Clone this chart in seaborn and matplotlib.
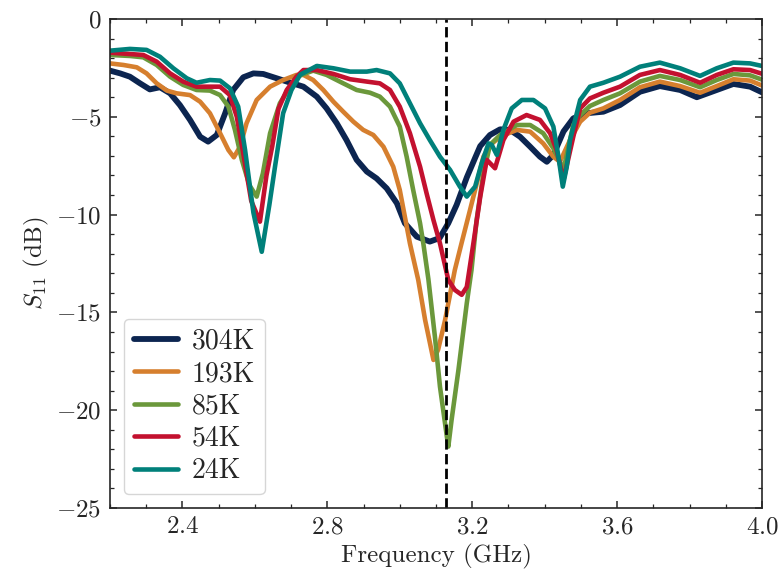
import numpy as np
import pandas as pd
import matplotlib
matplotlib.use("Agg")
import matplotlib.pyplot as plt
import seaborn as sns
from matplotlib.ticker import MultipleLocator

f_304 = [2.200, 2.228, 2.255, 2.283, 2.310, 2.338, 2.366, 2.393, 2.421, 2.449, 2.471, 2.495, 2.518, 2.540,
         2.568, 2.596, 2.623, 2.660, 2.697, 2.734, 2.771, 2.798, 2.826, 2.853, 2.881, 2.909, 2.936, 2.964,
         2.992, 3.014, 3.047, 3.083, 3.110, 3.134, 3.157, 3.185, 3.208, 3.222, 3.249, 3.277, 3.304, 3.332,
         3.360, 3.387, 3.406, 3.424, 3.452, 3.479, 3.516, 3.562, 3.608, 3.663, 3.718, 3.774, 3.820, 3.875,
         3.921, 3.967, 4.000]
s_304 = [-2.64, -2.78, -2.95, -3.29, -3.60, -3.49, -3.80, -4.40, -5.16, -6.02, -6.27, -5.93, -4.82, -3.63,
         -2.98, -2.78, -2.81, -3.03, -3.25, -3.46, -3.97, -4.57, -5.33, -6.19, -7.20, -7.80, -8.15, -8.66,
         -9.42, -10.44, -11.13, -11.38, -11.20, -10.44, -9.50, -8.10, -7.10, -6.50, -5.93, -5.64, -5.67, -6.02,
         -6.53, -7.04, -7.30, -6.95, -5.75, -5.08, -4.82, -4.74, -4.40, -3.72, -3.43, -3.63, -4.00, -3.63,
         -3.32, -3.46, -3.75]

f_193 = [2.200, 2.237, 2.274, 2.301, 2.329, 2.357, 2.384, 2.421, 2.449, 2.476, 2.504, 2.527, 2.542, 2.559,
         2.577, 2.605, 2.642, 2.678, 2.715, 2.734, 2.761, 2.789, 2.817, 2.844, 2.872, 2.899, 2.927, 2.955,
         2.982, 3.000, 3.014, 3.028, 3.051, 3.070, 3.093, 3.106, 3.125, 3.152, 3.170, 3.194, 3.208, 3.231,
         3.250, 3.277, 3.323, 3.360, 3.396, 3.424, 3.442, 3.470, 3.498, 3.525, 3.562, 3.608, 3.663, 3.718,
         3.774, 3.829, 3.875, 3.921, 3.967, 4.000]
s_193 = [-2.27, -2.35, -2.47, -2.78, -3.29, -3.66, -3.80, -3.89, -4.23, -4.82, -5.84, -6.70, -7.07, -6.53,
         -5.33, -4.14, -3.46, -3.12, -2.86, -2.86, -3.12, -3.63, -4.23, -4.74, -5.25, -5.67, -5.93, -6.53,
         -7.55, -8.74, -10.10, -11.47, -13.34, -15.39, -17.43, -16.90, -15.40, -12.83, -11.50, -9.76, -8.74, -7.04,
         -6.44, -6.02, -5.67, -5.76, -6.36, -7.04, -7.30, -6.19, -5.25, -4.79, -4.57, -4.14, -3.49, -3.20,
         -3.43, -3.77, -3.43, -3.08, -3.15, -3.40]

f_85 = [2.200, 2.255, 2.292, 2.329, 2.366, 2.402, 2.439, 2.476, 2.504, 2.527, 2.545, 2.564, 2.585, 2.605,
        2.622, 2.642, 2.669, 2.697, 2.715, 2.761, 2.798, 2.844, 2.881, 2.918, 2.945, 2.973, 3.000, 3.019,
        3.037, 3.056, 3.065, 3.079, 3.097, 3.111, 3.130, 3.134, 3.143, 3.162, 3.185, 3.198, 3.212, 3.230,
        3.249, 3.277, 3.323, 3.360, 3.396, 3.424, 3.452, 3.479, 3.498, 3.525, 3.562, 3.608, 3.663, 3.718,
        3.774, 3.829, 3.875, 3.921, 3.967, 4.000]
s_85 = [-1.84, -1.89, -1.96, -2.35, -2.95, -3.37, -3.63, -3.66, -3.89, -4.48, -5.67, -7.20, -8.50, -9.08,
        -7.90, -5.84, -4.31, -3.46, -2.95, -2.64, -2.86, -3.29, -3.63, -3.77, -3.97, -4.48, -5.50, -7.04,
        -8.74, -10.44, -11.47, -13.30, -16.24, -18.80, -21.35, -21.86, -20.50, -17.94, -14.53, -12.83, -10.30, -8.00,
        -6.44, -5.93, -5.42, -5.42, -5.84, -6.61, -7.70, -5.42, -4.91, -4.45, -4.14, -3.80, -3.20, -2.91,
        -3.12, -3.49, -3.12, -2.81, -2.88, -3.10]

f_54 = [2.200, 2.255, 2.292, 2.329, 2.366, 2.402, 2.439, 2.476, 2.504, 2.531, 2.550, 2.568, 2.590, 2.614,
        2.632, 2.648, 2.665, 2.688, 2.715, 2.734, 2.771, 2.817, 2.863, 2.909, 2.945, 2.973, 3.000, 3.028,
        3.056, 3.074, 3.093, 3.111, 3.134, 3.152, 3.171, 3.185, 3.203, 3.222, 3.240, 3.263, 3.286, 3.314,
        3.350, 3.387, 3.415, 3.433, 3.452, 3.479, 3.498, 3.525, 3.562, 3.608, 3.663, 3.718, 3.774, 3.829,
        3.875, 3.921, 3.967, 4.000]
s_54 = [-1.72, -1.79, -1.84, -2.18, -2.78, -3.20, -3.46, -3.46, -3.46, -3.89, -4.99, -6.87, -9.30, -10.36,
        -8.00, -6.50, -4.60, -3.63, -2.95, -2.61, -2.61, -2.81, -3.08, -3.20, -3.29, -3.63, -4.48, -5.84,
        -7.55, -8.91, -10.28, -11.47, -13.34, -13.85, -14.10, -13.70, -11.50, -9.10, -7.20, -7.63, -6.19, -5.25,
        -4.91, -5.16, -5.84, -6.70, -8.23, -6.02, -4.57, -4.06, -3.77, -3.46, -2.86, -2.61, -2.86, -3.26,
        -2.86, -2.57, -2.61, -2.80]

f_24 = [2.200, 2.255, 2.301, 2.338, 2.375, 2.412, 2.439, 2.476, 2.504, 2.531, 2.554, 2.573, 2.596, 2.619,
        2.640, 2.656, 2.678, 2.701, 2.725, 2.771, 2.817, 2.863, 2.909, 2.936, 2.973, 3.000, 3.028, 3.056,
        3.083, 3.111, 3.139, 3.166, 3.185, 3.208, 3.226, 3.245, 3.254, 3.268, 3.286, 3.309, 3.337, 3.369,
        3.401, 3.424, 3.438, 3.450, 3.461, 3.470, 3.498, 3.525, 3.562, 3.608, 3.663, 3.718, 3.774, 3.829,
        3.875, 3.921, 3.967, 4.000]
s_24 = [-1.62, -1.53, -1.58, -1.93, -2.52, -3.03, -3.26, -3.12, -3.15, -3.54, -4.48, -6.70, -9.90, -11.90,
        -9.50, -7.50, -4.82, -3.63, -2.85, -2.40, -2.52, -2.69, -2.69, -2.61, -2.78, -3.29, -4.31, -5.33,
        -6.19, -7.04, -7.72, -8.57, -9.08, -8.57, -7.38, -6.36, -6.44, -6.95, -5.67, -4.57, -4.14, -4.14,
        -4.57, -5.50, -7.04, -8.57, -7.55, -6.19, -4.14, -3.46, -3.26, -2.95, -2.44, -2.23, -2.52, -2.91,
        -2.52, -2.23, -2.27, -2.40]

labels = ["304K", "193K", "85K", "54K", "24K"]
colors = ["#0c2550", "#d67f2e", "#6b983b", "#c3112f", "#00807a"]
f_mark = 3.128

sns.set_style("ticks")
plt.rcParams.update({
    "font.family": "serif",
    "font.serif": ["cmr10"],
    "mathtext.fontset": "cm",
    "axes.formatter.use_mathtext": True,
    "axes.unicode_minus": True,
    "font.size": 18,
    "axes.linewidth": 1.2,
    "xtick.direction": "in",
    "ytick.direction": "in",
    "xtick.top": True,
    "ytick.right": True,
    "xtick.minor.visible": True,
    "ytick.minor.visible": True,
    "xtick.major.size": 5,
    "ytick.major.size": 5,
    "xtick.minor.size": 2.8,
    "ytick.minor.size": 2.8,
    "xtick.major.width": 1.1,
    "ytick.major.width": 1.1,
    "xtick.minor.width": 0.9,
    "ytick.minor.width": 0.9,
    "xtick.labelsize": 18,
    "ytick.labelsize": 18,
    "xtick.major.pad": 6,
    "ytick.major.pad": 6,
})

fig, ax = plt.subplots(figsize=(7.81, 5.79), dpi=100)
fig.subplots_adjust(left=0.1408, right=0.9757, top=0.9672, bottom=0.1226)

series = [(f_304, s_304), (f_193, s_193), (f_85, s_85), (f_54, s_54), (f_24, s_24)]
widths = [4.2, 3.3, 3.3, 3.3, 3.3]
for (f, s), lab, c, w in zip(series, labels, colors, widths):
    sns.lineplot(x=f, y=s, color=c, lw=w, label=lab, ax=ax)

ax.axvline(f_mark, color="black", ls="--", lw=2)

ax.set_xlim(2.2, 4.0)
ax.set_ylim(-25, 0)
ax.xaxis.set_major_locator(MultipleLocator(0.4))
ax.xaxis.set_minor_locator(MultipleLocator(0.1))
ax.yaxis.set_major_locator(MultipleLocator(5))
ax.yaxis.set_minor_locator(MultipleLocator(1))
ax.set_xlabel("Frequency (GHz)", fontsize=18)
ax.set_ylabel("$S_{11}$ (dB)", fontsize=18)
ax.legend(loc="lower left", fontsize=20, labelspacing=0.22, handlelength=1.6,
          handletextpad=0.5, borderpad=0.35)

fig.savefig("out.png", dpi=100)
